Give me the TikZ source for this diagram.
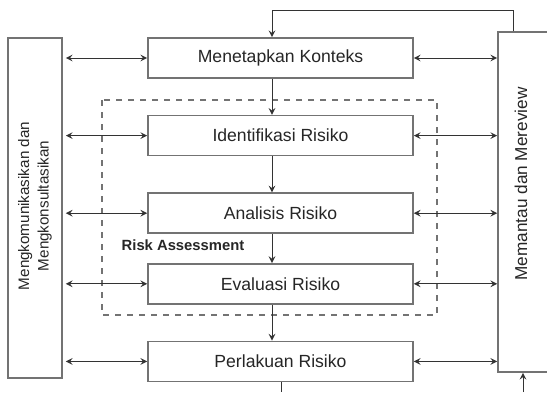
\documentclass[tikz,border=0pt]{standalone}
\usepackage{fontspec}
\setmainfont{Liberation Sans}
\usetikzlibrary{positioning}

\begin{document}
\begin{tikzpicture}[
    x=0.5pt, y=-0.5pt,
    node distance=18pt,
    every node/.style={font=\fontsize{8.8}{10}\selectfont, text=black!85},
    process/.style={rectangle, draw=black!55, line width=0.8pt, fill=white, minimum width=132.5pt, minimum height=20pt, inner sep=0pt},
    side/.style={rectangle, draw=black!55, line width=0.8pt, minimum width=27pt, minimum height=170pt, inner sep=0pt},
    sidetext/.style={rotate=90, align=center, font=\fontsize{8.6}{10.5}\selectfont},
    arrow/.style={->, >=stealth, black!80, line width=0.5pt},
    twoway/.style={<->, >=stealth, black!80, line width=0.5pt}
]
    \useasboundingbox (0,0) rectangle (547,392);
    \clip (0,0) rectangle (547,392);

    % Risk assessment group
    \draw[dashed, black!55, line width=0.6pt] (102,100) rectangle (437,315);
    \node[font=\fontsize{7.4}{9}\selectfont\bfseries] (assess) at (183,245) {Risk Assessment};

    % Main steps
    \node[process] (step1) at (280.5,58) {Menetapkan Konteks};
    \node[process, below=of step1] (step2) {Identifikasi Risiko};
    \node[process, below=of step2] (step3) {Analisis Risiko};
    \node[process, below=14.5pt of step3] (step4) {Evaluasi Risiko};
    \node[process, below=of step4] (step5) {Perlakuan Risiko};

    % Side boxes
    \node[side] (comm) at (35,208) {};
    \node[sidetext, font=\fontsize{7.6}{9.8}\selectfont] (commtext) at (35,206) {Mengkomunikasikan dan\\Mengkonsultasikan};
    \node[side] (review) at (525,202) {};
    \node[sidetext] (reviewtext) at (521,184) {Memantau dan Mereview};

    % Flow arrows
    \coordinate (spine) at (272,0);
    \draw[arrow] (step1.south -| spine) -- (step2.north -| spine);
    \draw[arrow] (step2.south -| spine) -- (step3.north -| spine);
    \draw[arrow] (step3.south -| spine) -- (step4.north -| spine);
    \draw[arrow] (step4.south -| spine) -- (step5.north -| spine);

    % Links to side boxes
    \foreach \s in {step1,step2,step3,step4,step5} {
        \draw[twoway, shorten <=1.5pt] (comm.east |- \s.west) -- (\s.west);
        \draw[twoway] (\s.east) -- (review.west |- \s.east);
    }

    % Feedback loop
    \coordinate (loopR) at (513,10);
    \coordinate (loopL) at (272,10);
    \draw[arrow] (review.north -| loopR) -- (loopR) -- (loopL) -- (step1.north -| loopL);
    \coordinate (outL) at (281,392);
    \coordinate (outR) at (523,392);
    \draw[black!80, line width=0.5pt] (step5.south -| outL) -- (outL);
    \draw[arrow] (outR) -- (review.south -| outR);
\end{tikzpicture}
\end{document}
